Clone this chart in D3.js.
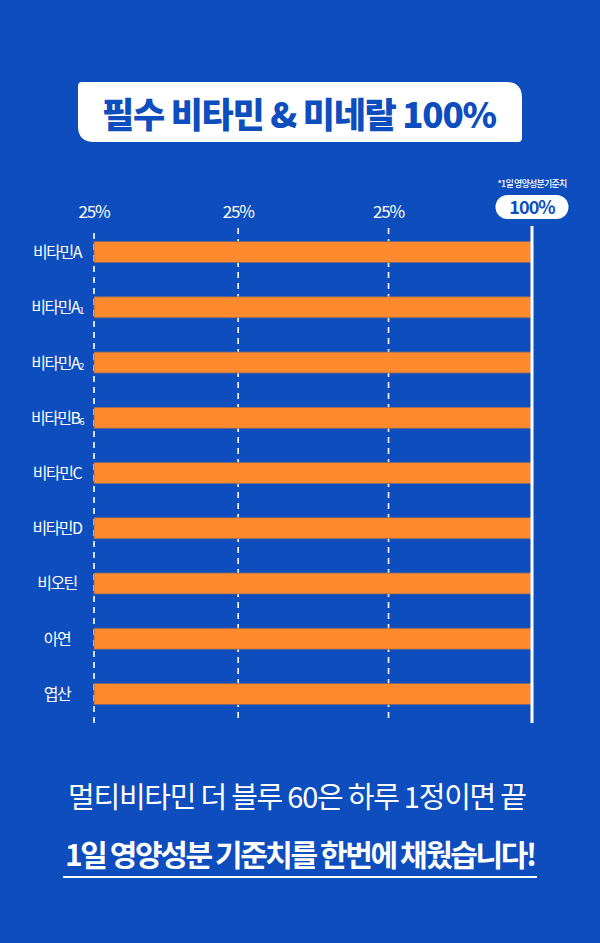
<!DOCTYPE html>
<html><head><meta charset="utf-8">
<script src="https://cdn.jsdelivr.net/npm/d3@7"></script>
<style>
html,body{margin:0;padding:0;background:#0d4dbe;}
svg{display:block;}
text{font-family:"Noto Sans CJK KR","Noto Sans",sans-serif;}
</style></head>
<body>
<script>
// ---- data ----
const categories = ["비타민A","비타민A1","비타민A2","비타민B6","비타민C","비타민D","비오틴","아연","엽산"];
const labelMain = ["비타민A","비타민A","비타민A","비타민B","비타민C","비타민D","비오틴","아연","엽산"];
const labelSub = ["","1","2","6","","","","",""];
const values = [100,100,100,100,100,100,100,100,100];
const gridValues = [0, 33, 67.4];
const tickLabels = ["25%","25%","25%"];
const refValue = 100;
const refLabel = "100%";
const refNote = "*1일 영양성분기준치";
const title = "필수 비타민 & 미네랄 100%";
const footer1 = "멀티비타민 더 블루 60은 하루 1정이면 끝";
const footer2 = "1일 영양성분 기준치를 한번에 채웠습니다!";

const W = 600, H = 943;
const blue = "#0d4dbe", orange = "#ff8a2e";
const svg = d3.select("body").append("svg").attr("width", W).attr("height", H);
svg.append("rect").attr("width", W).attr("height", H).attr("fill", blue);

// title box: TL small, TR large, BR small, BL large radius
(function(){
  const x0=78,y0=82,x1=522,y1=142,rs=4,rl=16;
  const p = d3.path();
  p.moveTo(x0+rs,y0);
  p.lineTo(x1-rl,y0); p.quadraticCurveTo(x1,y0,x1,y0+rl);
  p.lineTo(x1,y1-rs); p.quadraticCurveTo(x1,y1,x1-rs,y1);
  p.lineTo(x0+rl,y1); p.quadraticCurveTo(x0,y1,x0,y1-rl);
  p.lineTo(x0,y0+rs); p.quadraticCurveTo(x0,y0,x0+rs,y0);
  p.closePath();
  svg.append("path").attr("d", p.toString()).attr("fill","#fff");
})();
svg.append("text").attr("x",102).attr("y",128)
  .attr("font-size",35).attr("font-weight",800)
  .attr("textLength",395).attr("lengthAdjust","spacing")
  .attr("fill",blue).text(title);

const x = d3.scaleLinear().domain([0,100]).range([94,531]);
const y = d3.scaleBand().domain(categories).range([225,721]).paddingInner(0.62).paddingOuter(0.3);

// dashed grid
const g = svg.append("g");
g.selectAll("line.grid").data(gridValues).join("line")
  .attr("x1",d=>x(d)).attr("x2",d=>x(d))
  .attr("y1",(d,i)=>i===0?233:228).attr("y2",(d,i)=>i===0?726:723)
  .attr("stroke","#fff").attr("stroke-width",1.6).attr("stroke-dasharray","6,5");
g.selectAll("text.tick").data(gridValues).join("text")
  .attr("x",d=>x(d)).attr("y",218).attr("text-anchor","middle")
  .attr("font-size",17).attr("letter-spacing",-1.2).attr("fill","#fff")
  .text((d,i)=>tickLabels[i]);

// bars
g.selectAll("rect.bar").data(values).join("rect")
  .attr("x",x(0)).attr("y",(d,i)=>y(categories[i]))
  .attr("width",d=>x(d)-x(0)).attr("height",y.bandwidth())
  .attr("fill",orange).attr("stroke","#7a6a70").attr("stroke-width",0.8);

// reference line
g.append("line").attr("x1",x(refValue)+1).attr("x2",x(refValue)+1)
  .attr("y1",226).attr("y2",723).attr("stroke","#fff").attr("stroke-width",3);
g.append("rect").attr("x",x(refValue)+1-36.5).attr("y",195).attr("width",73).attr("height",24)
  .attr("rx",12).attr("fill","#fff");
g.append("text").attr("x",x(refValue)+1).attr("y",214).attr("text-anchor","middle")
  .attr("font-size",18).attr("font-weight",700).attr("letter-spacing",-0.9).attr("fill",blue).text(refLabel);
g.append("text").attr("x",x(refValue)+1).attr("y",187).attr("text-anchor","middle")
  .attr("font-size",9).attr("font-weight",500).attr("letter-spacing",-0.8).attr("fill","#fff").text(refNote);

// category labels
const lab = g.selectAll("text.cat").data(categories).join("text")
  .attr("x",57).attr("y",c=>y(c)+y.bandwidth()/2+6).attr("text-anchor","middle")
  .attr("font-size",16).attr("letter-spacing",-1.5).attr("fill","#fff");
lab.append("tspan").text((c,i)=>labelMain[i]);
lab.append("tspan").attr("font-size",9).attr("dy",1).text((c,i)=>labelSub[i]);

// footer
svg.append("text").attr("x",68).attr("y",808)
  .attr("font-size",29).attr("font-weight",400)
  .attr("textLength",459).attr("lengthAdjust","spacing").attr("fill","#fff").text(footer1);
svg.append("text").attr("x",65).attr("y",866)
  .attr("font-size",30).attr("font-weight",700)
  .attr("textLength",472).attr("lengthAdjust","spacing").attr("fill","#fff").text(footer2);
svg.append("line").attr("x1",63).attr("x2",537).attr("y1",877).attr("y2",877)
  .attr("stroke","#fff").attr("stroke-width",2);
</script>
</body></html>
